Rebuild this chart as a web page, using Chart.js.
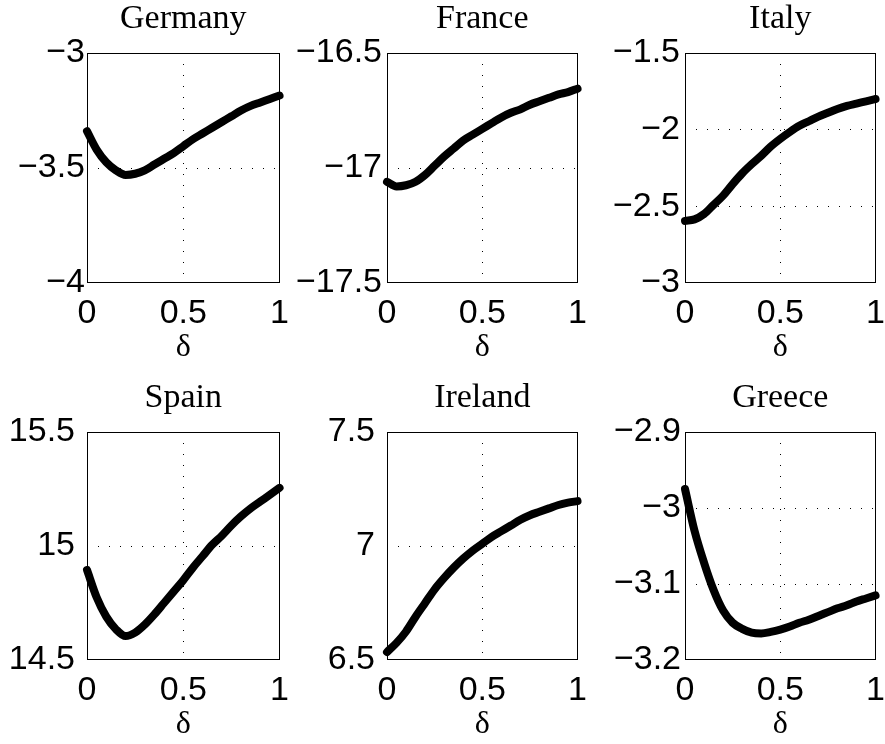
<!DOCTYPE html>
<html>
<head>
<meta charset="utf-8">
<script src="https://cdn.jsdelivr.net/npm/chart.js@4/dist/chart.umd.min.js"></script>
<style>
html, body { margin: 0; padding: 0; background: #fff; overflow: hidden; }
#wrap { position: relative; width: 885px; height: 744px; overflow: hidden; background: #fff; }
#wrap canvas { position: absolute; }
</style>
</head>
<body>
<div id="wrap"></div>
<script>
// ---------------- data ----------------
const countries = ['Germany', 'France', 'Italy', 'Spain', 'Ireland', 'Greece'];
const delta = [0, 0.05, 0.1, 0.15, 0.2, 0.25, 0.3, 0.35, 0.4, 0.45, 0.5,
               0.55, 0.6, 0.65, 0.7, 0.75, 0.8, 0.85, 0.9, 0.95, 1];

const germany = [-3.34, -3.42, -3.475, -3.51, -3.53, -3.525, -3.51, -3.485, -3.46, -3.435, -3.405,
                 -3.375, -3.35, -3.325, -3.30, -3.275, -3.25, -3.23, -3.215, -3.20, -3.185];
const france  = [-17.06, -17.08, -17.075, -17.06, -17.03, -16.99, -16.95, -16.915, -16.88, -16.855, -16.83,
                 -16.805, -16.78, -16.76, -16.745, -16.725, -16.71, -16.695, -16.68, -16.67, -16.655];
const italy   = [-2.595, -2.585, -2.55, -2.49, -2.43, -2.355, -2.285, -2.225, -2.17, -2.11, -2.06,
                 -2.015, -1.975, -1.945, -1.915, -1.89, -1.865, -1.845, -1.83, -1.815, -1.80];
const spain   = [14.895, 14.775, 14.69, 14.635, 14.605, 14.62, 14.655, 14.70, 14.75, 14.80, 14.85,
                 14.905, 14.955, 15.005, 15.045, 15.09, 15.13, 15.165, 15.195, 15.225, 15.255];
const ireland = [6.535, 6.575, 6.625, 6.69, 6.75, 6.81, 6.86, 6.905, 6.945, 6.98, 7.01,
                 7.04, 7.065, 7.09, 7.115, 7.135, 7.15, 7.165, 7.18, 7.19, 7.197];
const greece  = [-2.975, -3.03, -3.072, -3.108, -3.135, -3.151, -3.159, -3.164, -3.165, -3.163, -3.16,
                 -3.156, -3.151, -3.147, -3.142, -3.137, -3.132, -3.128, -3.123, -3.119, -3.115];

const xTicks        = [0, 0.5, 1];
const germanyTicks  = [-4, -3.5, -3];
const franceTicks   = [-17.5, -17, -16.5];
const italyTicks    = [-3, -2.5, -2, -1.5];
const spainTicks    = [14.5, 15, 15.5];
const irelandTicks  = [6.5, 7, 7.5];
const greeceTicks   = [-3.2, -3.1, -3, -2.9];
const xLabel = 'δ';

// ---------------- layout ----------------
const seriesList = [germany, france, italy, spain, ireland, greece];
const tickList = [germanyTicks, franceTicks, italyTicks, spainTicks, irelandTicks, greeceTicks];
const boxes = [
  { left: 87,  top: 53,  w: 196, h: 230, pad: 2 },
  { left: 387, top: 53,  w: 194, h: 230, pad: 5 },
  { left: 685, top: 53,  w: 194, h: 230, pad: 5 },
  { left: 87,  top: 432, w: 196, h: 228, pad: 12 },
  { left: 387, top: 432, w: 194, h: 228, pad: 12 },
  { left: 685, top: 432, w: 194, h: 228, pad: 4 }
];
const L = 100, R = 16, T = 54, B = 84;
const TITLE_SIZE = 34, TICK_SIZE = 34, XLABEL_SIZE = 32;

Chart.defaults.color = '#000';

function fmt(v) {
  const r = Math.round(v * 100) / 100;
  const s = String(Math.abs(r));
  return r < 0 ? '\u2212' + s : s;
}

const boxPlugin = {
  id: 'axisBox',
  afterDatasetsDraw(chart) {
    const { ctx, chartArea: a } = chart;
    ctx.save();
    ctx.setLineDash([]);
    ctx.strokeStyle = '#000';
    ctx.lineWidth = 1;
    const x0 = Math.round(a.left) + 0.5, y0 = Math.round(a.top) + 0.5;
    const x1 = Math.round(a.right) - 0.5, y1 = Math.round(a.bottom) - 0.5;
    ctx.strokeRect(x0, y0, x1 - x0, y1 - y0);
    ctx.restore();
  }
};

const wrap = document.getElementById('wrap');

countries.forEach((name, i) => {
  const b = boxes[i];
  const yT = tickList[i];
  const yMin = yT[0], yMax = yT[yT.length - 1];
  const cv = document.createElement('canvas');
  const cw = L + b.w + R, ch = T + b.h + B;
  cv.width = cw; cv.height = ch;
  cv.style.width = cw + 'px'; cv.style.height = ch + 'px';
  cv.style.left = (b.left - L) + 'px';
  cv.style.top = (b.top - T) + 'px';
  wrap.appendChild(cv);

  const gridColor = (lo, hi) => (c) => {
    const v = c.tick ? c.tick.value : null;
    return (v !== null && v > lo + 1e-9 && v < hi - 1e-9) ? '#000' : 'rgba(0,0,0,0)';
  };

  new Chart(cv, {
    type: 'line',
    data: {
      datasets: [{
        data: delta.map((d, k) => ({ x: d, y: seriesList[i][k] })),
        borderColor: '#000',
        borderWidth: 8,
        pointRadius: 0,
        cubicInterpolationMode: 'monotone',
        borderCapStyle: 'round',
        borderJoinStyle: 'round',
        clip: false
      }]
    },
    options: {
      responsive: false,
      animation: false,
      events: [],
      layout: { padding: { left: 0, right: R, top: 0, bottom: 0 } },
      plugins: {
        legend: { display: false },
        tooltip: { enabled: false },
        title: {
          display: true,
          text: name,
          fullSize: false,
          color: '#000',
          font: { family: 'Liberation Serif', size: TITLE_SIZE, weight: 'normal', lineHeight: 1.2 },
          padding: { top: 0, bottom: T - TITLE_SIZE * 1.2 }
        }
      },
      scales: {
        x: {
          type: 'linear',
          min: 0, max: 1,
          afterBuildTicks: (s) => { s.ticks = xTicks.map(v => ({ value: v })); },
          afterFit: (s) => { s.height = B; },
          ticks: {
            font: { family: 'Liberation Sans', size: TICK_SIZE },
            color: '#000',
            padding: 10,
            maxRotation: 0,
            autoSkip: false,
            callback: (v) => fmt(v)
          },
          grid: { color: gridColor(0, 1), lineWidth: 1, drawTicks: false },
          border: { display: false, dash: [1, 10] },
          title: {
            display: true,
            text: xLabel,
            color: '#000',
            font: { family: 'Liberation Serif', size: XLABEL_SIZE, lineHeight: 1.2 },
            padding: { top: 0, bottom: 0 }
          }
        },
        y: {
          type: 'linear',
          min: yMin, max: yMax,
          afterBuildTicks: (s) => { s.ticks = yT.map(v => ({ value: v })); },
          afterFit: (s) => { s.width = L; },
          ticks: {
            font: { family: 'Liberation Sans', size: TICK_SIZE },
            color: '#000',
            padding: b.pad,
            autoSkip: false,
            callback: (v) => fmt(v)
          },
          grid: { color: gridColor(yMin, yMax), lineWidth: 1, drawTicks: false },
          border: { display: false, dash: [1, 10] }
        }
      }
    },
    plugins: [boxPlugin]
  });
});
</script>
</body>
</html>
